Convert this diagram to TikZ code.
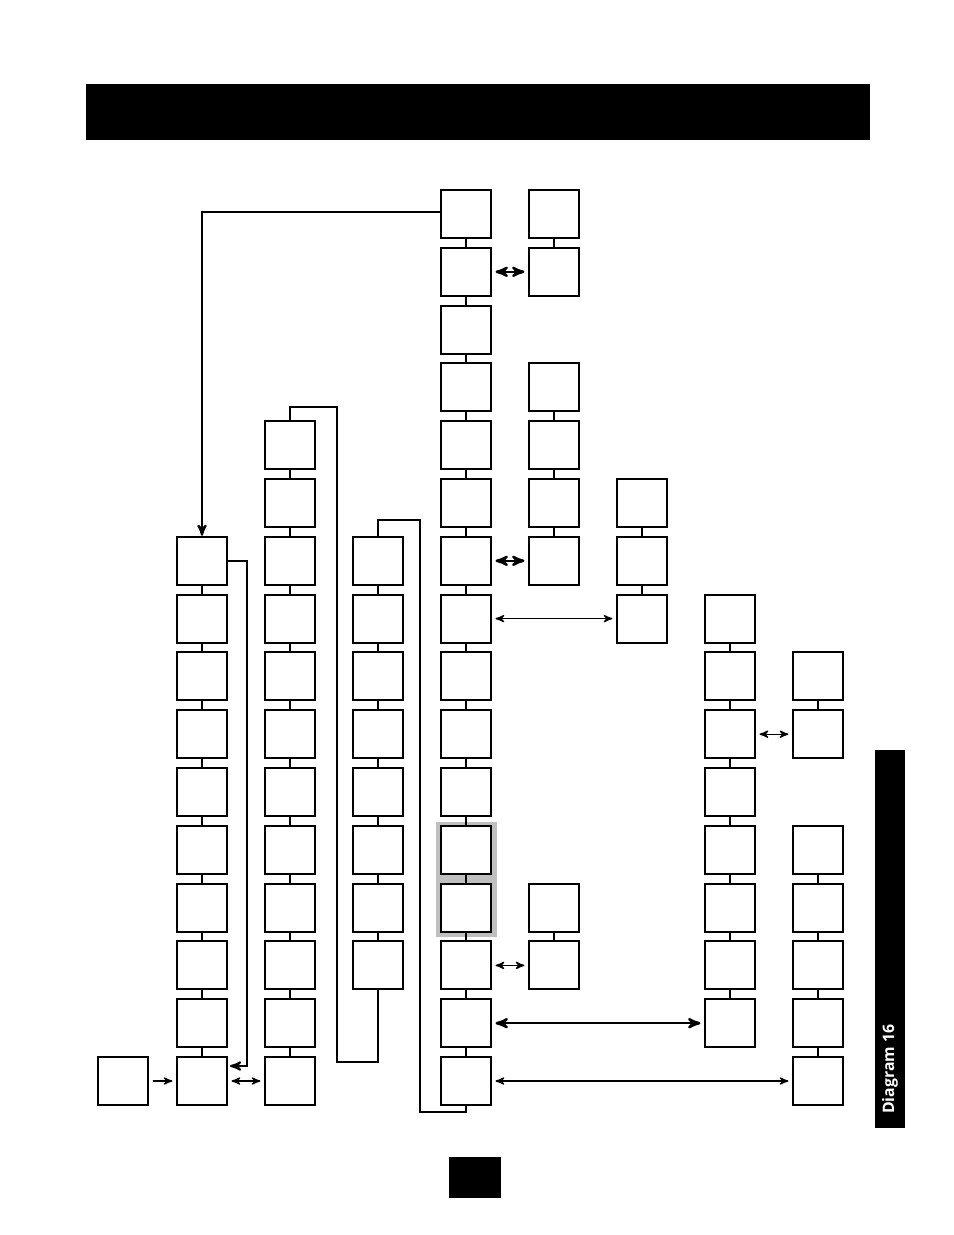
\documentclass[tikz,border=0pt]{standalone}
\usepackage{fontspec}
\setsansfont{Open Sans}
\usetikzlibrary{arrows,calc,positioning}
\begin{document}
\begin{tikzpicture}[x=0.02cm,y=-0.02cm,>=stealth',
  blk/.style={draw,line width=1.2pt,fill=white,minimum width=1cm,
              minimum height=0.96cm,inner sep=0pt},
  link/.style={line width=0.8pt},
  pair/.style={<->,line width=0.8pt,shorten >=2pt,shorten <=2pt},
  bigpair/.style={<->,line width=1.4pt,shorten >=2pt,shorten <=2pt},
  feed/.style={line width=1.2pt}]
  \useasboundingbox (0,0) rectangle (954,1235);

  % header, side tab and page box
  \fill (86,84) rectangle (870,140);
  \fill (875,750) rectangle (905,1128);
  \node[rotate=90,text=white,font=\sffamily\bfseries\small,anchor=west] (tab) at (890,1120) {Diagram 16};
  \fill (449,1157) rectangle (501,1198);

  % highlight behind two steps
  \fill[black!25] (436,822) rectangle (497,937);

  % boxes: column/x/rows
  \foreach \c/\x/\rows in {0/123/{15},1/202/{6,...,15},2/290/{4,...,15},
      3/378/{6,...,13},4/466/{0,...,15},5/554/{0,1,3,4,5,6,12,13},
      6/642/{5,6,7},7/730/{7,...,14},8/818/{8,9,11,12,13,14,15}}
    \foreach \r in \rows
      \node[blk] (b\c r\r) at (\x,214+57.8*\r) {};

  % links inside the columns
  \foreach \c/\a/\b in {1/6/15,2/4/15,3/6/13,4/0/15,5/0/1,5/3/6,5/12/13,
      6/5/7,7/7/14,8/8/9,8/11/15}{
    \pgfmathtruncatemacro\e{\b-1}
    \foreach \r in {\a,...,\e}{
      \pgfmathtruncatemacro\s{\r+1}
      \draw[link] (b\c r\r.south) -- (b\c r\s.north);
    }
  }

  % branches
  \draw[bigpair] (b4r1) -- (b5r1);
  \draw[bigpair] (b4r6) -- (b5r6);
  \draw[pair] (b4r7) -- (b6r7);
  \draw[pair] (b7r9) -- (b8r9);
  \draw[pair] (b4r13) -- (b5r13);
  \draw[bigpair] (b4r14) -- (b7r14);
  \draw[pair] (b4r15) -- (b8r15);
  \draw[pair] (b1r15) -- (b2r15);
  \draw[->,link,shorten >=2pt,shorten <=2pt] (b0r15) -- (b1r15);

  % returns
  \draw[feed,->] ($(b4r0.west)+(0,-2)$) -| (b1r6.north);
  \draw[feed,->] (b1r6.east) -- ++(19,0) |- ($(b1r15.east)+(2,-15)$);
  \draw[feed] (b2r4.north) |- (337,407) -- (337,1062) -| (b3r13.south);
  \draw[feed] (b3r6.north) |- (420,520) -- (420,1112) -| (b4r15.south);
\end{tikzpicture}
\end{document}
